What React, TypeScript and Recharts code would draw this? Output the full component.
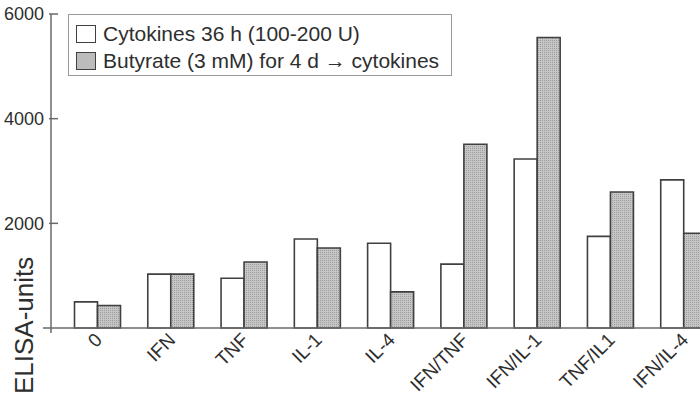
import React from 'react';
import { BarChart, Bar, XAxis, YAxis, Legend } from 'recharts';

const categories = ['0', 'IFN', 'TNF', 'IL-1', 'IL-4', 'IFN/TNF', 'IFN/IL-1', 'TNF/IL1', 'IFN/IL-4'];
const cytokines36h = [500, 1030, 950, 1700, 1620, 1220, 3230, 1750, 2830];
const butyrateThenCytokines = [430, 1030, 1260, 1530, 690, 3510, 5550, 2600, 1810];
const yTicks = [0, 2000, 4000, 6000];

const seriesNames = ['Cytokines 36 h (100-200 U)', 'Butyrate (3 mM) for 4 d \u2192 cytokines'];

const FONT = '"Liberation Sans", Arial, sans-serif';
const INK = '#2e2e2e';
const AXIS = '#6a6a6a';
const BAR_EDGE = '#404040';
const GREY = '#bcbcbc';

const data = categories.map((c, i) => ({
  name: c,
  cyto: cytokines36h[i],
  buty: butyrateThenCytokines[i],
}));

const XTick = ({ x, y, payload }: any) => {
  const tx = x + 6;
  const ty = y + 11;
  return (
    <text
      x={tx} y={ty}
      transform={`rotate(-45 ${tx} ${ty})`}
      textAnchor="end"
      fontSize={19}
      fontFamily={FONT}
      fill={INK}
    >
      {payload.value}
    </text>
  );
};

const YTick = ({ x, y, payload }: any) => {
  if (payload.value === 0) {
    // baseline stub left of axis + axis overshoot below zero
    return (
      <g>
        <line x1={x - 8} x2={x} y1={y} y2={y} stroke={AXIS} strokeWidth={1.5} />
        <line x1={x} x2={x} y1={y} y2={y + 5} stroke={AXIS} strokeWidth={1.5} />
      </g>
    );
  }
  return (
    <g>
      <line x1={x - 2} x2={x + 7} y1={y} y2={y} stroke={AXIS} strokeWidth={1.5} />
      <text x={x - 7} y={y} dy="0.35em" textAnchor="end" fontSize={18} fontFamily={FONT} fill={INK}>
        {payload.value}
      </text>
    </g>
  );
};

const YLabel = () => (
  <text
    x={33} y={394}
    transform="rotate(-90 33 394)"
    textAnchor="start"
    fontSize={26}
    fontFamily={FONT}
    fill={INK}
  >
    ELISA-units
  </text>
);

const swatch = (bg: string) => ({
  width: 20, height: 18, boxSizing: 'border-box' as const,
  border: `1.5px solid ${BAR_EDGE}`, background: bg, marginRight: 7, flex: 'none' as const,
});

const LegendBox = () => (
  <div style={{
    boxSizing: 'border-box', width: 384, height: 62,
    border: '1px solid #9a9a9a', background: '#fff',
    padding: '5px 7px 1px 7px', fontFamily: FONT, fontSize: 21, color: INK,
  }}>
    {seriesNames.map((n, i) => (
      <div key={n} style={{ display: 'flex', alignItems: 'center', height: 27, whiteSpace: 'nowrap' }}>
        <div style={swatch(i === 0 ? '#fff' : GREY)} />
        <span>{n}</span>
      </div>
    ))}
  </div>
);

export default function App() {
  return (
    <div style={{ position: 'fixed', left: 0, top: 0, width: 700, height: 396, overflow: 'hidden', background: '#fff' }}>
      <BarChart
        width={720} height={396}
        data={data}
        margin={{ top: 14, right: 0, bottom: 0, left: 0 }}
        barGap={0}
        barSize={23}
      >
        <defs>
          <pattern id="stipple" width="2" height="2" patternUnits="userSpaceOnUse">
            <rect width="2" height="2" fill="#c6c6c6" />
            <rect width="1" height="1" fill="#9c9c9c" />
          </pattern>
        </defs>
        <XAxis
          dataKey="name"
          height={68}
          padding={{ left: 9.5, right: 0 }}
          axisLine={{ stroke: AXIS, strokeWidth: 1.5 }}
          tickLine={false}
          tickSize={0}
          tickMargin={2}
          interval={0}
          tick={<XTick />}
        />
        <YAxis
          width={51}
          domain={[0, 6000]}
          ticks={yTicks}
          axisLine={{ stroke: AXIS, strokeWidth: 1.5 }}
          tickLine={false}
          tickSize={0}
          tickMargin={0}
          tick={<YTick />}
          label={{ content: () => <YLabel /> }}
        />
        <Legend
          layout="horizontal"
          verticalAlign="middle"
          align="center"
          content={() => <LegendBox />}
          wrapperStyle={{ position: 'absolute', left: 68, top: 14, width: 384, height: 62 }}
        />
        <Bar dataKey="cyto" name={seriesNames[0]} fill="#ffffff" stroke={BAR_EDGE} strokeWidth={1.6} isAnimationActive={false} />
        <Bar dataKey="buty" name={seriesNames[1]} fill="url(#stipple)" stroke={BAR_EDGE} strokeWidth={1.6} isAnimationActive={false} />
      </BarChart>
    </div>
  );
}
